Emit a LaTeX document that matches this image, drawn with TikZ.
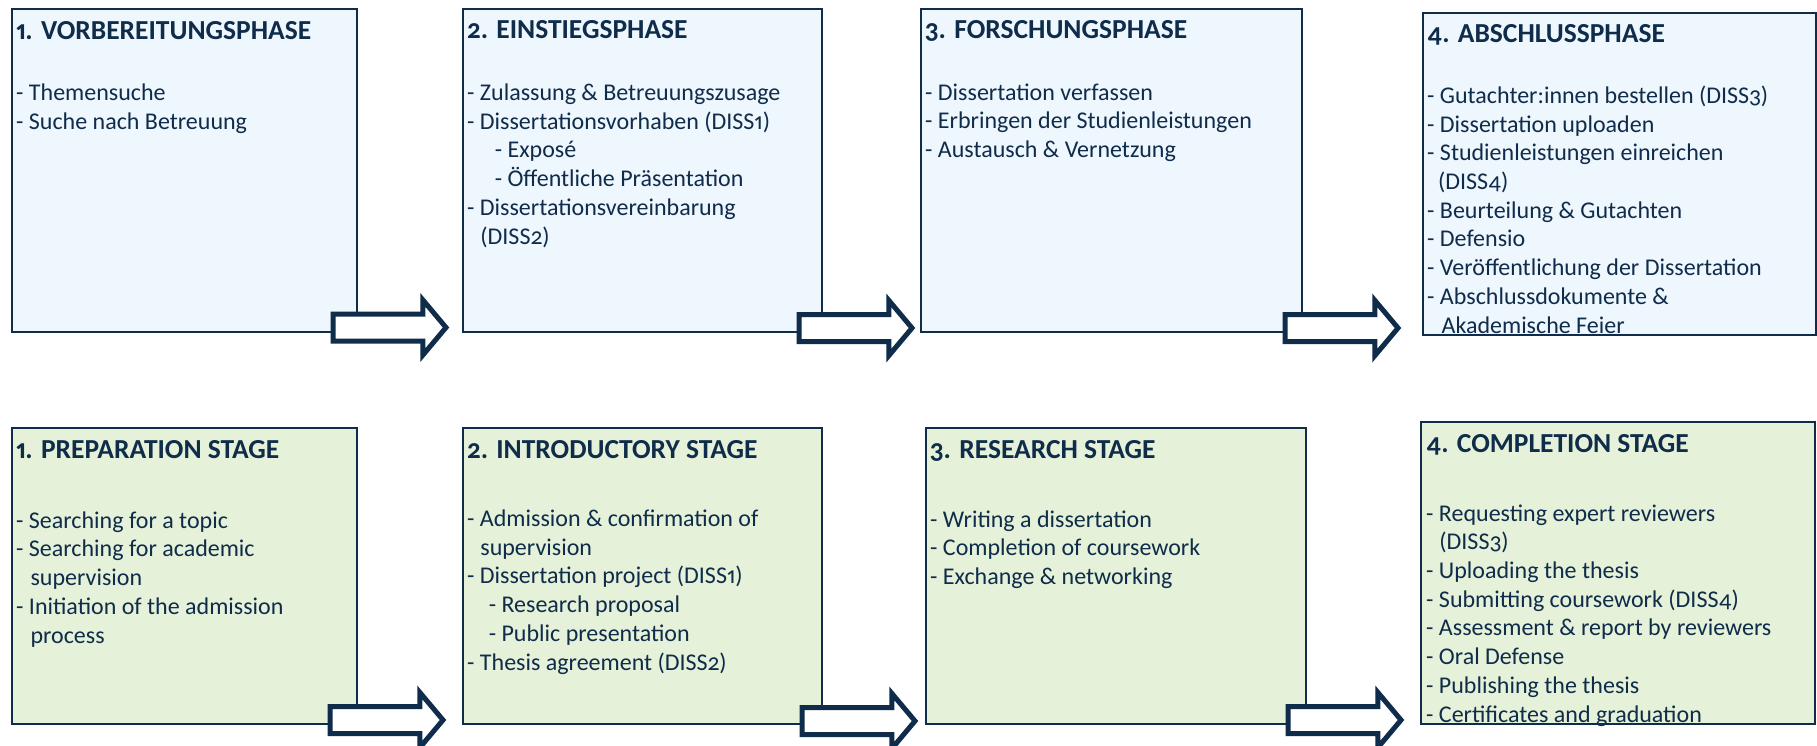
\documentclass[tikz,border=0pt]{standalone}
\usepackage{fontspec}
\setmainfont{Carlito}[Numbers={OldStyle,Proportional}]
\usetikzlibrary{shapes.arrows}
\definecolor{navy}{HTML}{0F2C4A}
\definecolor{phaseblue}{HTML}{EEF6FE}
\definecolor{stagegreen}{HTML}{E5F1D8}

\tikzset{
  stagebox/.style={draw=navy, line width=2pt, anchor=north west, inner sep=0pt},
  stagetitle/.style={anchor=base west, inner sep=0pt, text=navy, font=\bfseries\fontsize{27.5}{33}\selectfont},
  % multi-line: base anchor sits on the last line
  stagelist/.style={anchor=base west, inner sep=0pt, align=left, text=navy, font=\fontsize{24}{28.7}\selectfont},
  stagearrow/.style={single arrow, draw=navy, fill=white, line width=5pt, inner xsep=0pt, inner ysep=11pt, anchor=tail,
    minimum height=113pt, minimum width=50pt, single arrow head extend=14pt, single arrow tip angle=100}
}

\begin{document}
\begin{tikzpicture}[x=1pt,y=-1pt]
		\fill[white] (0,0) rectangle (1817,745);
		\useasboundingbox (0,0) rectangle (1817,745);
		
		% German phases
		\node (vorb)[stagebox, fill=phaseblue, minimum width=345pt, minimum height=323pt] at (11,8) {};
		\node (einst)[stagebox, fill=phaseblue, minimum width=359pt, minimum height=323pt] at (462,8) {};
		\node (forsch)[stagebox, fill=phaseblue, minimum width=381pt, minimum height=323pt] at (920,8) {};
		\node (abschl)[stagebox, fill=phaseblue, minimum width=393pt, minimum height=322pt] at (1422,12) {};
		
		\node (vorbT)[stagetitle] at (16,39) {1. VORBEREITUNGSPHASE};
		\node (vorbL)[stagelist] at (16,129.4) {- Themensuche\\- Suche nach Betreuung};
		
		\node (einstT)[stagetitle] at (467,38) {2. EINSTIEGSPHASE};
		\node (einstL)[stagelist] at (467,244) {- Zulassung \& Betreuungszusage\\- Dissertationsvorhaben (DISS1)\\\hspace*{1.15em}- Exposé\\\hspace*{1.15em}- Öffentliche Präsentation\\- Dissertationsvereinbarung\\\hspace*{0.55em}(DISS2)};
		
		\node (forschT)[stagetitle] at (925,38) {3. FORSCHUNGSPHASE};
		\node (forschL)[stagelist] at (925,157.4) {- Dissertation verfassen\\- Erbringen der Studienleistungen\\- Austausch \& Vernetzung};
		
		\node (abschlT)[stagetitle] at (1427,42) {4. ABSCHLUSSPHASE};
		\begin{scope}
			\clip (abschl.north west) rectangle (abschl.south east);
			\node (abschlL)[stagelist] at (1427,333) {- Gutachter:innen bestellen (DISS3)\\- Dissertation uploaden\\- Studienleistungen einreichen\\\hspace*{0.45em}(DISS4)\\- Beurteilung \& Gutachten\\- Defensio\\- Veröffentlichung der Dissertation\\- Abschlussdokumente \&\\\hspace*{0.6em}Akademische Feier};
		\end{scope}
		
		% English stages
		\node (prep)[stagebox, fill=stagegreen, minimum width=345pt, minimum height=296pt] at (11,427) {};
		\node (intro)[stagebox, fill=stagegreen, minimum width=359pt, minimum height=296pt] at (462,427) {};
		\node (research)[stagebox, fill=stagegreen, minimum width=380pt, minimum height=296pt] at (925,427) {};
		\node (compl)[stagebox, fill=stagegreen, minimum width=394pt, minimum height=302pt] at (1420,421) {};
		
		\node (prepT)[stagetitle] at (16,458) {1. PREPARATION STAGE};
		\node (prepL)[stagelist] at (16,643) {- Searching for a topic\\- Searching for academic\\\hspace*{0.6em}supervision\\- Initiation of the admission\\\hspace*{0.6em}process};
		
		\node (introT)[stagetitle] at (467,458) {2. INTRODUCTORY STAGE};
		\node (introL)[stagelist] at (467,670) {- Admission \& confirmation of\\\hspace*{0.55em}supervision\\- Dissertation project (DISS1)\\\hspace*{0.9em}- Research proposal\\\hspace*{0.9em}- Public presentation\\- Thesis agreement (DISS2)};
		
		\node (researchT)[stagetitle] at (930,458) {3. RESEARCH STAGE};
		\node (researchL)[stagelist] at (930,584.4) {- Writing a dissertation\\- Completion of coursework\\- Exchange \& networking};
		
		\node (complT)[stagetitle] at (1426,452) {4. COMPLETION STAGE};
		\node (complL)[stagelist] at (1426,722) {- Requesting expert reviewers\\\hspace*{0.55em}(DISS3)\\- Uploading the thesis\\- Submitting coursework (DISS4)\\- Assessment \& report by reviewers\\- Oral Defense\\- Publishing the thesis\\- Certificates and graduation};
		
		% arrows between the phases
		\node (arrV)[stagearrow] at (330.5,327.5) {};
		\node (arrE)[stagearrow] at (796.5,328) {};
		\node (arrF)[stagearrow] at (1282.5,328) {};
		\node (arrP)[stagearrow] at (327.5,720) {};
		\node (arrI)[stagearrow] at (799.5,721) {};
		\node (arrR)[stagearrow] at (1285.5,720) {};
	\end{tikzpicture}
\end{document}
